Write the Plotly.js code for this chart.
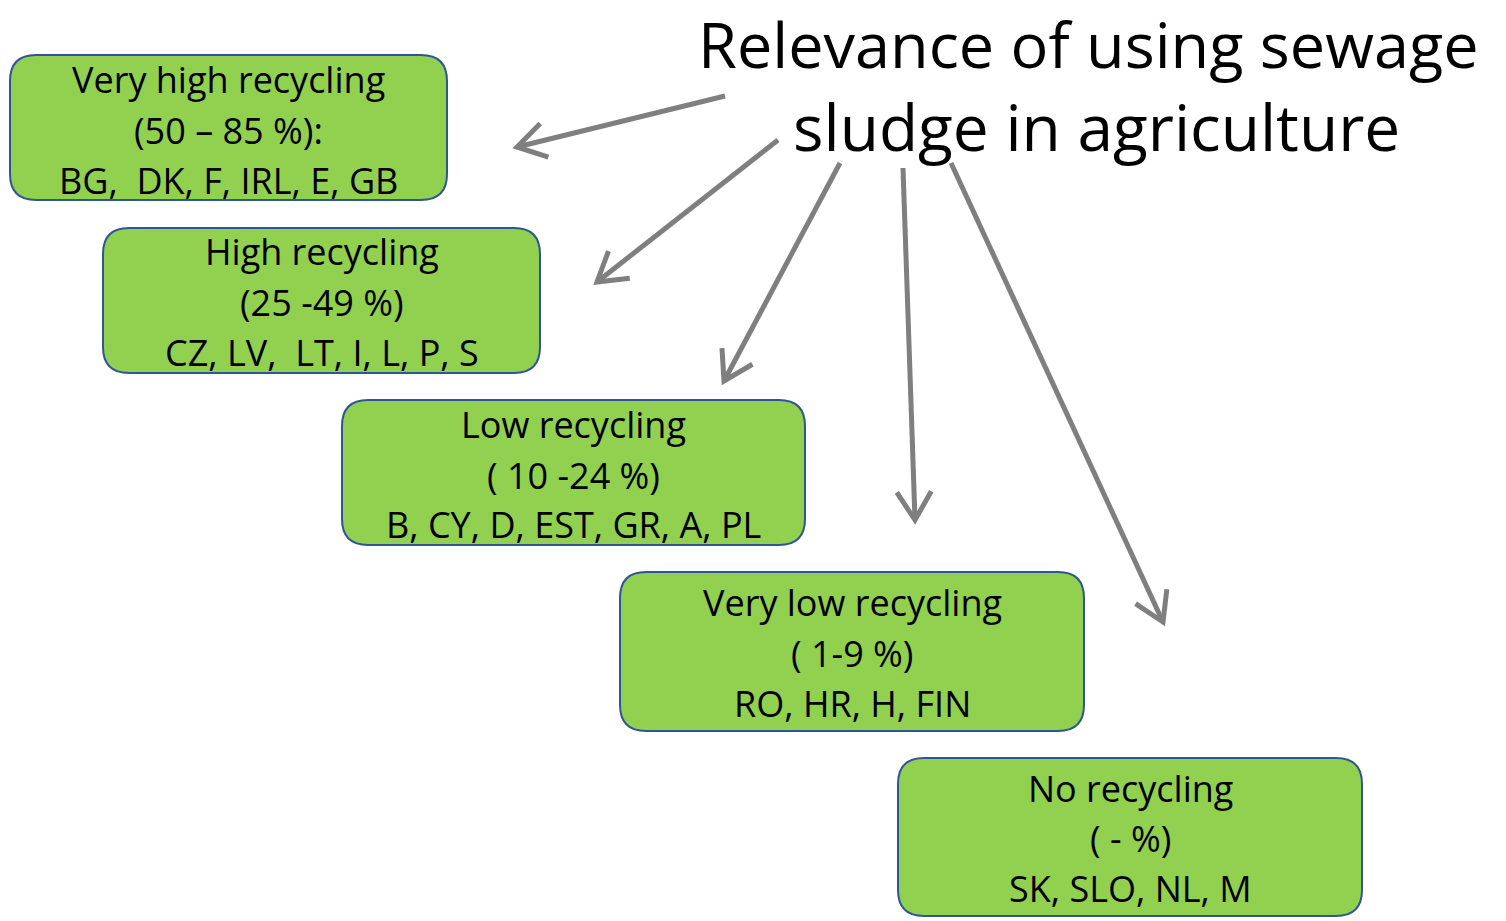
<!DOCTYPE html>
<html><head><meta charset="utf-8">
<script src="https://cdn.plot.ly/plotly-3.0.1.min.js"></script>
<style>html,body{margin:0;padding:0;background:#fff}#chart{width:1506px;height:921px}</style>
</head><body><div id="chart"></div>
<script>
// Content
const titleLines = ["Relevance of using sewage", "sludge in agriculture"];
const categories = ["Very high recycling", "High recycling", "Low recycling", "Very low recycling", "No recycling"];
const ranges = ["(50 – 85 %):", "(25 -49 %)", "( 10 -24 %)", "( 1-9 %)", "( - %)"];
const countries = ["BG,  DK, F, IRL, E, GB", "CZ, LV,  LT, I, L, P, S", "B, CY, D, EST, GR, A, PL", "RO, HR, H, FIN", "SK, SLO, NL, M"];

// Layout (pixel positions)
const boxX0 = [10, 103, 342, 620, 898];
const boxX1 = [447, 540, 805, 1084, 1362];
const boxY0 = [55, 228, 400, 572, 758];
const boxY1 = [200, 373, 545, 731, 916];
const lineOffsets = [[24, 75, 125],[23,74,124],[24,75,124],[30,81,131],[30,80,130]];
const arrowFrom = [[725,96],[778,140],[840,163],[903,168],[951,163]];
const arrowTo = [[517,147],[597,282],[724,381],[915,520],[1163,622]];

const FONT = "Open Sans, Noto Sans, sans-serif";
const shapes = [], annotations = [];
function rrect(x0,y0,x1,y1,r){
  return `M${x0+r},${y0} L${x1-r},${y0} Q${x1},${y0} ${x1},${y0+r} L${x1},${y1-r} Q${x1},${y1} ${x1-r},${y1} L${x0+r},${y1} Q${x0},${y1} ${x0},${y1-r} L${x0},${y0+r} Q${x0},${y0} ${x0+r},${y0} Z`;
}
categories.forEach((c,i)=>{
  shapes.push({type:'path', xref:'x', yref:'y', path: rrect(boxX0[i],boxY0[i],boxX1[i],boxY1[i],26),
    fillcolor:'#92D050', line:{color:'#2F5597', width:2}, layer:'below'});
  const cx = (boxX0[i]+boxX1[i])/2;
  [c, ranges[i], countries[i]].forEach((t,j)=>{
    annotations.push({x:cx, y:boxY0[i]+lineOffsets[i][j], xref:'x', yref:'y', text:t, showarrow:false,
      xanchor:'center', yanchor:'middle', font:{family:FONT, size:36, color:'#000'}});
  });
});
arrowFrom.forEach((f,i)=>{
  const t = arrowTo[i];
  shapes.push({type:'line', xref:'x', yref:'y', x0:f[0], y0:f[1], x1:t[0], y1:t[1], line:{color:'#7F7F7F', width:5}});
  const dx=t[0]-f[0], dy=t[1]-f[1], L=Math.hypot(dx,dy), ux=dx/L, uy=dy/L;
  const len=33, ang=0.55;
  const c=Math.cos(ang), s=Math.sin(ang);
  const a1=[t[0]-len*(ux*c-uy*s), t[1]-len*(uy*c+ux*s)];
  const a2=[t[0]-len*(ux*c+uy*s), t[1]-len*(uy*c-ux*s)];
  shapes.push({type:'path', xref:'x', yref:'y', path:`M${a1[0]},${a1[1]} L${t[0]},${t[1]} L${a2[0]},${a2[1]}`,
    line:{color:'#7F7F7F', width:5}});
});
annotations.push({x:1088, y:0, xref:'x', yref:'y', text:titleLines[0], showarrow:false, xanchor:'center', yanchor:'top', borderpad:0, font:{family:FONT, size:63, color:'#000'}});
annotations.push({x:1096, y:126, xref:'x', yref:'y', text:titleLines[1], showarrow:false, xanchor:'center', yanchor:'middle', borderpad:0, font:{family:FONT, size:64, color:'#000'}});

Plotly.newPlot('chart', [], {
  width:1506, height:921, margin:{l:0,r:0,t:0,b:0}, paper_bgcolor:'#fff', plot_bgcolor:'#fff',
  xaxis:{range:[0,1506], visible:false, fixedrange:true},
  yaxis:{range:[921,0], visible:false, fixedrange:true},
  shapes, annotations, showlegend:false
}, {staticPlot:true});
</script></body></html>
